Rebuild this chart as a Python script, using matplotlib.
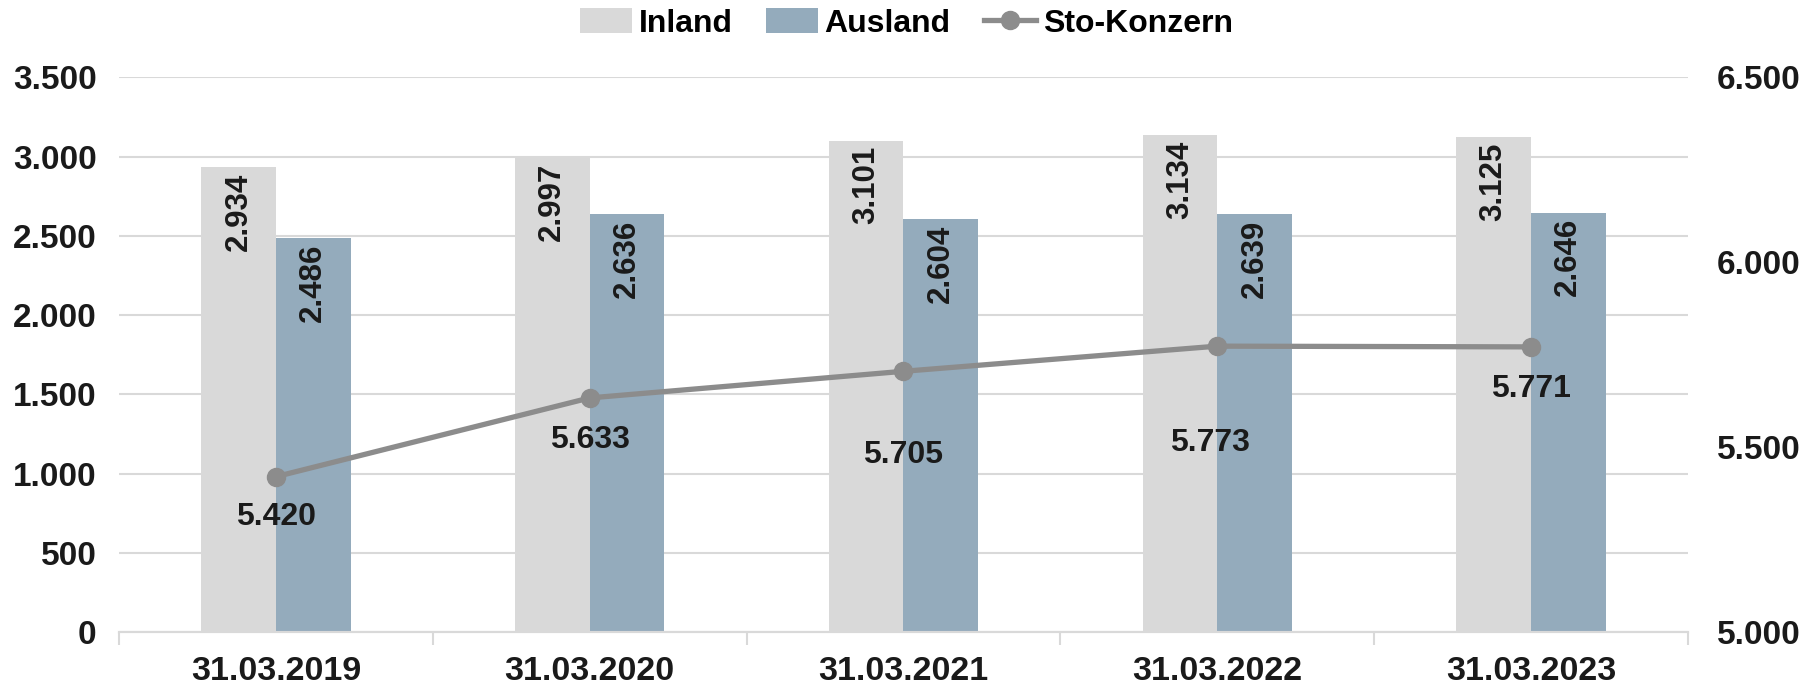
import matplotlib.pyplot as plt
import numpy as np

# data
dates = ['31.03.2019', '31.03.2020', '31.03.2021', '31.03.2022', '31.03.2023']
inland = [2934, 2997, 3101, 3134, 3125]
ausland = [2486, 2636, 2604, 2639, 2646]
konzern = [5420, 5633, 5705, 5773, 5771]

c_inland = '#d9d9d9'
c_ausland = '#94abbc'
c_line = '#8c8c8c'
c_grid = '#d9d9d9'


def fmt(v):
    # german thousands separator
    return f'{v:,}'.replace(',', '.')


plt.rcParams['font.family'] = ['Liberation Sans', 'DejaVu Sans']
plt.rcParams['font.weight'] = 'bold'

fig = plt.figure(figsize=(18.13, 6.84), dpi=100)
ax = fig.add_axes([0.0656, 0.076, 0.8654, 0.811])
ax2 = ax.twinx()

x = np.arange(len(dates))
w = 0.238
b1 = ax.bar(x - w / 2, inland, w, color=c_inland, label='Inland', zorder=2)
b2 = ax.bar(x + w / 2, ausland, w, color=c_ausland, label='Ausland', zorder=2)

for bars, vals in [(b1, inland), (b2, ausland)]:
    for r, v in zip(bars, vals):
        ax.annotate(fmt(v), (r.get_x() + r.get_width() / 2, v), xytext=(0, -4),
                    textcoords='offset points', rotation=90, ha='center', va='top',
                    fontsize=22.5, fontweight='bold', color='#1a1a1a', zorder=4)

ln, = ax2.plot(x, konzern, color=c_line, lw=3.8, marker='o', ms=13, label='Sto-Konzern', zorder=3)

# label offsets below the points (points)
offs = [(0, -29), (0, -30), (0, -60), (-5, -70), (0, -30)]
for xi, v, (dx, dy) in zip(x, konzern, offs):
    ax2.annotate(fmt(v), (xi, v), xytext=(dx, dy), textcoords='offset points',
                 ha='center', va='center', fontsize=23, fontweight='bold', color='#1a1a1a')

ax.set_xlim(-0.5, 4.5)
ax.set_ylim(0, 3500)
ax2.set_ylim(5000, 6500)
ax.set_yticks(np.arange(0, 3501, 500))
ax.set_yticklabels([fmt(v) for v in range(0, 3501, 500)])
ax2.set_yticks(np.arange(5000, 6501, 500))
ax2.set_yticklabels([fmt(v) for v in range(5000, 6501, 500)])

ax.set_xticks(x)
ax.set_xticklabels(dates)
ax.set_xticks(np.arange(-0.5, 4.6, 1), minor=True)
ax.tick_params(axis='x', which='major', length=0, pad=17, labelsize=24.5)
ax.tick_params(axis='x', which='minor', length=9, color=c_grid, width=1.5)
ax.tick_params(axis='y', length=0, pad=16, labelsize=24, labelcolor='#1a1a1a')
ax2.tick_params(axis='y', length=0, pad=21, labelsize=24, labelcolor='#1a1a1a')
for lab in ax.get_xticklabels() + ax.get_yticklabels() + ax2.get_yticklabels():
    lab.set_fontweight('bold')
    lab.set_color('#1a1a1a')

ax.grid(axis='y', color=c_grid, lw=1.5, zorder=0)
ax.set_axisbelow(True)
for a in (ax, ax2):
    for s in ['top', 'left', 'right']:
        a.spines[s].set_visible(False)
    a.spines['bottom'].set_color(c_grid)
    a.spines['bottom'].set_linewidth(1.5)

ax.set_zorder(ax2.get_zorder() - 1)
ax2.patch.set_visible(False)
ax.patch.set_visible(False)

fig.legend(handles=[b1, b2, ln], loc='upper center', bbox_to_anchor=(0.5, 1.03), ncol=3,
           frameon=False, prop={'family': ['Liberation Sans Narrow', 'Liberation Sans'],
                                'weight': 'bold', 'size': 23},
           handlelength=1.63, handleheight=0.8, columnspacing=1.05, handletextpad=0.2)

fig.savefig('out.png', dpi=100)
